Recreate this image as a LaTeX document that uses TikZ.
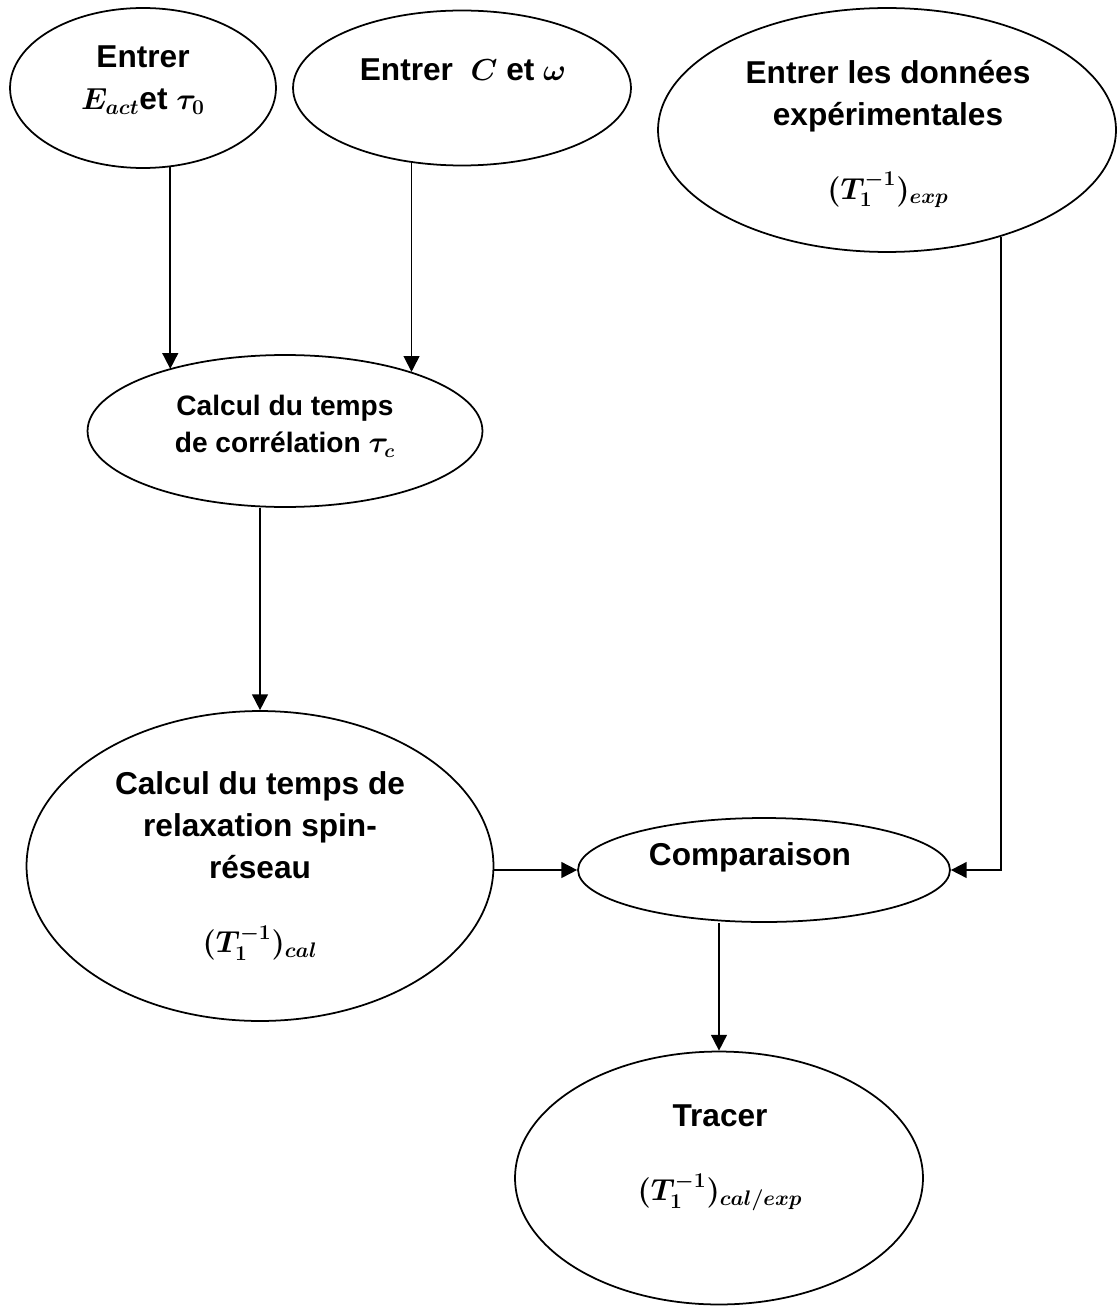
\documentclass[tikz,border=0pt]{standalone}
\usepackage{amsmath}
\usepackage{fontspec}
\setmainfont{Liberation Sans}
\usetikzlibrary{shapes.geometric,arrows.meta}

\begin{document}
\begin{tikzpicture}[x=0.02cm, y=-0.02cm,
  oval/.style={ellipse, draw, line width=1pt, inner sep=0pt},
  txt/.style={align=center, font=\fontsize{18}{24}\selectfont\bfseries\boldmath},
  flow/.style={-{Triangle[length=9pt,width=9pt]}, line width=1pt}]
\useasboundingbox (0,0) rectangle (1117,1307);
% ellipses (centre in pixels, size in cm)
\node[oval, minimum width=5.32cm, minimum height=3.2cm] (entA) at (143,88) {};
\node[oval, minimum width=6.76cm, minimum height=3.1cm] (entB) at (462,88) {};
\node[oval, minimum width=9.16cm, minimum height=4.88cm] (entExp) at (887,130) {};
\node[oval, minimum width=7.9cm, minimum height=3.04cm] (corr) at (285,431) {};
\node[oval, minimum width=9.34cm, minimum height=6.2cm] (relax) at (260,866) {};
\node[oval, minimum width=7.44cm, minimum height=2.08cm] (comp) at (764,870) {};
\node[oval, minimum width=8.16cm, minimum height=5.06cm] (trace) at (719,1178) {};
% texts
\node[txt] (entA-t) at (143,80) {Entrer\\$E_{act}$et $\tau_0$};
\node[txt] (entB-t) at (463,70) {Entrer~ $C$ et $\omega$};
\node[txt] (entExp-t) at (888,134) {Entrer les donn\'ees\\exp\'erimentales\\[18pt]$(T_1^{-1})_{exp}$};
\node[txt, font=\fontsize{16}{21.5}\selectfont\bfseries\boldmath] (corr-t) at (285,426)
  {Calcul du temps\\de corr\'elation $\tau_c$};
\node[txt] (relax-t) at (260,866)
  {Calcul du temps de\\relaxation spin-\\r\'eseau\\[18pt]$(T_1^{-1})_{cal}$};
\node[txt] (comp-t) at (750,857) {Comparaison};
\node[txt] (trace-t) at (720,1158) {Tracer\\[18pt]$(T_1^{-1})_{cal/exp}$};
% connectors
\draw[flow] (entA.-71) -- (entA.-71 |- corr.152);
\draw[flow] (entB.-124) -- (entB.-124 |- corr.25);
\draw[flow] (relax.north |- corr.south) -- (relax.north);
\draw[flow] (relax.east |- comp.west) -- (comp.west);
\draw[flow] (entExp.-43) |- (comp.east);
\draw[flow] (trace.north |- comp.south) -- (trace.north);
\end{tikzpicture}
\end{document}
